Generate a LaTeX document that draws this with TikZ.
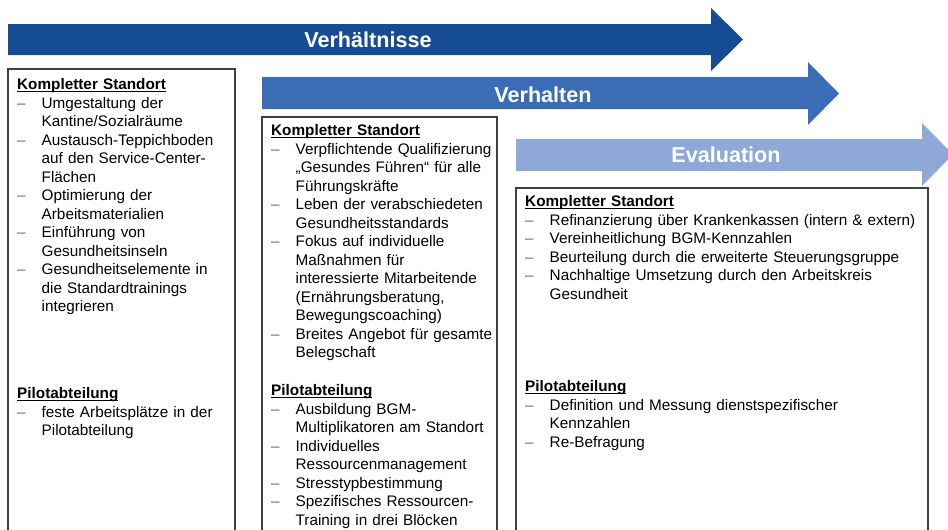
\documentclass[tikz,border=0pt]{standalone}
\usepackage{fontspec}
\setmainfont{Liberation Sans}
\definecolor{arrA}{RGB}{22,76,147}
\definecolor{arrB}{RGB}{58,109,181}
\definecolor{arrC}{RGB}{142,169,216}
\definecolor{boxline}{RGB}{64,64,64}
\definecolor{dashgray}{RGB}{110,110,110}
\newcommand{\hdul}[1]{\setbox0\hbox{\textbf{#1}}\rlap{\rule[-2pt]{\wd0}{1.1pt}}\box0}
\newenvironment{dlist}{\list{\textcolor{dashgray}{\textendash}}{%
  \setlength\leftmargin{24.5pt}\setlength\labelsep{0pt}\setlength\labelwidth{24.5pt}%
  \setlength\itemsep{0pt}\setlength\parsep{0pt}\setlength\topsep{0pt}\setlength\partopsep{0pt}%
  \setlength\itemindent{0pt}\setlength\listparindent{0pt}%
  \renewcommand\makelabel[1]{##1\hfil}}}{\endlist}
\begin{document}
\begin{tikzpicture}[x=1pt,y=-1pt,
  title/.style={font=\bfseries\fontsize{21.6}{24}\selectfont, text=white, inner sep=0pt},
  col/.style={draw=boxline, line width=1.3pt},
  txt/.style={anchor=north west, inner sep=0pt, text width=420pt, align=left,
    font=\fontsize{15.3}{18.5}\selectfont}]
\useasboundingbox (0,0) rectangle (948,530);
% arrows
\fill[arrA] (8,24) -- (711,24) -- (711,8) -- (743,39.5) -- (711,71) -- (711,55) -- (8,55) -- cycle;
\fill[arrB] (262,77) -- (808,77) -- (808,62) -- (839,93.5) -- (808,125) -- (808,109) -- (262,109) -- cycle;
\fill[arrC] (516,139) -- (922,139) -- (922,123) -- (953,154.5) -- (922,186) -- (922,171) -- (516,171) -- cycle;
\node[title] (t1) at (368,40) {Verhältnisse};
\node[title] (t2) at (543,95) {Verhalten};
\node[title] (t3) at (726,155) {Evaluation};
% boxes
\draw[col] (8,545) -- (8,69) -- (235,69) -- (235,545);
\draw[col] (262,545) -- (262,117) -- (497,117) -- (497,545);
\draw[col] (516,545) -- (516,188) -- (928,188) -- (928,545);
% column 1
\node[txt] (k1) at (17,76.5) {\strut\hdul{Kompletter Standort}
\begin{dlist}
\item Umgestaltung der\\Kantine/Sozialräume
\item Austausch-Teppichboden\\auf den Service-Center-\\Flächen
\item Optimierung der\\Arbeitsmaterialien
\item Einführung von\\Gesundheitsinseln
\item Gesundheitselemente in\\die Standardtrainings\\integrieren
\end{dlist}};
\node[txt] (p1) at (17,385.5) {\strut\hdul{Pilotabteilung}
\begin{dlist}
\item feste Arbeitsplätze in der\\Pilotabteilung
\end{dlist}};
% column 2
\node[txt] (k2) at (271,122.5) {\strut\hdul{Kompletter Standort}
\begin{dlist}
\item Verpflichtende Qualifizierung\\„Gesundes Führen“ für alle\\Führungskräfte
\item Leben der verabschiedeten\\Gesundheitsstandards
\item Fokus auf individuelle\\Maßnahmen für\\interessierte Mitarbeitende\\(Ernährungsberatung,\\Bewegungscoaching)
\item Breites Angebot für gesamte\\Belegschaft
\end{dlist}};
\node[txt] (p2) at (271,382.5) {\strut\hdul{Pilotabteilung}
\begin{dlist}
\item Ausbildung BGM-\\Multiplikatoren am Standort
\item Individuelles\\Ressourcenmanagement
\item Stresstypbestimmung
\item Spezifisches Ressourcen-\\Training in drei Blöcken
\end{dlist}};
% column 3
\node[txt] (k3) at (525,193.5) {\strut\hdul{Kompletter Standort}
\begin{dlist}
\item Refinanzierung über Krankenkassen (intern \& extern)
\item Vereinheitlichung BGM-Kennzahlen
\item Beurteilung durch die erweiterte Steuerungsgruppe
\item Nachhaltige Umsetzung durch den Arbeitskreis\\Gesundheit
\end{dlist}};
\node[txt] (p3) at (525,378.5) {\strut\hdul{Pilotabteilung}
\begin{dlist}
\item Definition und Messung dienstspezifischer\\Kennzahlen
\item Re-Befragung
\end{dlist}};
\end{tikzpicture}
\end{document}
